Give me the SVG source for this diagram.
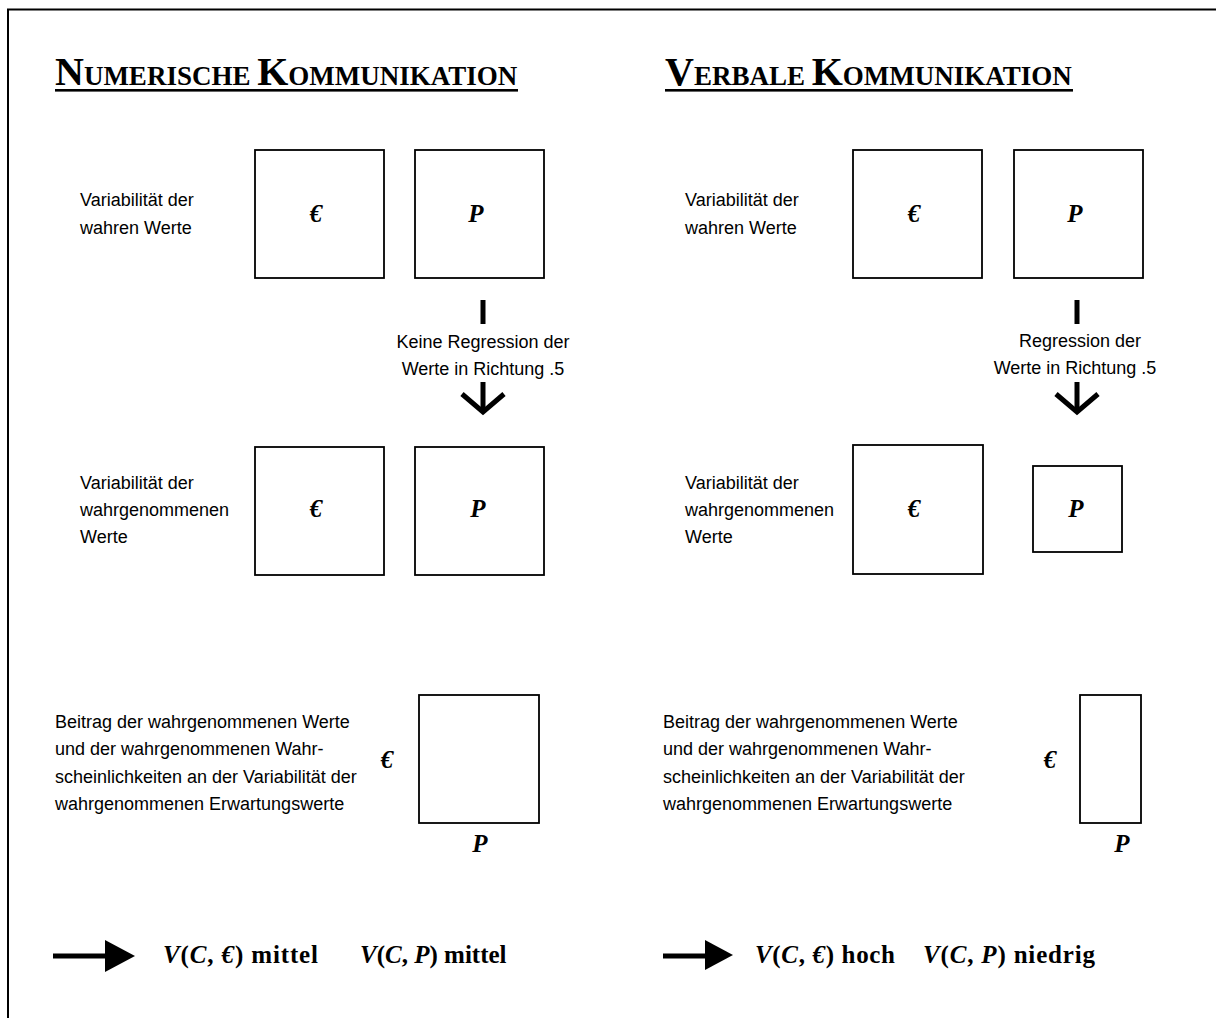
<svg xmlns="http://www.w3.org/2000/svg" width="1216" height="1018" viewBox="0 0 1216 1018">
<style>
.frame{fill:none;stroke:#000;stroke-width:2}
.box{fill:#fff;stroke:#000;stroke-width:1.8}
.lbl{font-family:"Liberation Sans",Arial,sans-serif;font-size:18px;fill:#000}
.sym{font-family:"Liberation Serif","Times New Roman",serif;font-size:25px;font-weight:bold;font-style:italic;fill:#000}
.title{font-family:"Liberation Serif","Times New Roman",serif;font-weight:bold;fill:#000}
.big{font-size:40px}
.sm{font-size:27px}
.res{font-family:"Liberation Serif","Times New Roman",serif;font-size:25px;font-weight:bold;fill:#000}
.it{font-style:italic}
.bar{fill:none;stroke:#000;stroke-width:5}
.shaft{fill:none;stroke:#000;stroke-width:5}
</style>
<rect class="frame" x="8" y="9.5" width="1230" height="1030"/>

<g id="title-left">
<text class="title" x="55" y="85"><tspan class="big">N</tspan><tspan class="sm">UMERISCHE </tspan><tspan class="big">K</tspan><tspan class="sm">OMMUNIKATION</tspan></text>
<rect x="55" y="89" width="463" height="2.6" fill="#000"/>
</g>
<g id="title-right">
<text class="title" x="665" y="85"><tspan class="big">V</tspan><tspan class="sm">ERBALE </tspan><tspan class="big">K</tspan><tspan class="sm">OMMUNIKATION</tspan></text>
<rect x="665" y="89" width="408" height="2.6" fill="#000"/>
</g>

<!-- Left column -->
<g id="label-l1"><text class="lbl" x="80" y="206">Variabilität der</text><text class="lbl" x="80" y="234">wahren Werte</text></g>
<g id="box-l1-e"><rect class="box" x="255" y="150" width="129" height="128"/><text class="sym" x="316" y="222" text-anchor="middle">€</text></g>
<g id="box-l1-p"><rect class="box" x="415" y="150" width="129" height="128"/><text class="sym" x="476" y="222" text-anchor="middle">P</text></g>

<g id="label-l2"><text class="lbl" x="80" y="489">Variabilität der</text><text class="lbl" x="80" y="516">wahrgenommenen</text><text class="lbl" x="80" y="543">Werte</text></g>
<g id="box-l2-e"><rect class="box" x="255" y="447" width="129" height="128"/><text class="sym" x="316" y="517" text-anchor="middle">€</text></g>
<g id="box-l2-p"><rect class="box" x="415" y="447" width="129" height="128"/><text class="sym" x="478" y="517" text-anchor="middle">P</text></g>

<g id="label-l3"><text class="lbl" x="55" y="728">Beitrag der wahrgenommenen Werte</text><text class="lbl" x="55" y="755">und der wahrgenommenen Wahr-</text><text class="lbl" x="55" y="783">scheinlichkeiten an der Variabilität der</text><text class="lbl" x="55" y="810">wahrgenommenen Erwartungswerte</text></g>
<g id="box-l3"><rect class="box" x="419" y="695" width="120" height="128"/><text class="sym" x="387" y="768" text-anchor="middle">€</text><text class="sym" x="480" y="852" text-anchor="middle">P</text></g>

<!-- Right column -->
<g id="label-r1"><text class="lbl" x="685" y="206">Variabilität der</text><text class="lbl" x="685" y="234">wahren Werte</text></g>
<g id="box-r1-e"><rect class="box" x="853" y="150" width="129" height="128"/><text class="sym" x="914" y="222" text-anchor="middle">€</text></g>
<g id="box-r1-p"><rect class="box" x="1014" y="150" width="129" height="128"/><text class="sym" x="1075" y="222" text-anchor="middle">P</text></g>

<g id="label-r2"><text class="lbl" x="685" y="489">Variabilität der</text><text class="lbl" x="685" y="516">wahrgenommenen</text><text class="lbl" x="685" y="543">Werte</text></g>
<g id="box-r2-e"><rect class="box" x="853" y="445" width="130" height="129"/><text class="sym" x="914" y="517" text-anchor="middle">€</text></g>
<g id="box-r2-p"><rect class="box" x="1033" y="466" width="89" height="86"/><text class="sym" x="1076" y="517" text-anchor="middle">P</text></g>

<g id="label-r3"><text class="lbl" x="663" y="728">Beitrag der wahrgenommenen Werte</text><text class="lbl" x="663" y="755">und der wahrgenommenen Wahr-</text><text class="lbl" x="663" y="783">scheinlichkeiten an der Variabilität der</text><text class="lbl" x="663" y="810">wahrgenommenen Erwartungswerte</text></g>
<g id="box-r3"><rect class="box" x="1080" y="695" width="61" height="128"/><text class="sym" x="1050" y="768" text-anchor="middle">€</text><text class="sym" x="1122" y="852" text-anchor="middle">P</text></g>

<!-- Connectors -->
<g id="connectors">
<line class="bar" x1="483" y1="300" x2="483" y2="324"/>
<text class="lbl" x="483" y="348" text-anchor="middle">Keine Regression der</text>
<text class="lbl" x="483" y="375" text-anchor="middle">Werte in Richtung .5</text>
<line class="bar" x1="483" y1="382" x2="483" y2="410"/>
<polyline class="bar" points="462,394 483,412 504,394" stroke-linejoin="miter"/>

<line class="bar" x1="1077" y1="300" x2="1077" y2="324"/>
<text class="lbl" x="1080" y="347" text-anchor="middle">Regression der</text>
<text class="lbl" x="1075" y="374" text-anchor="middle">Werte in Richtung .5</text>
<line class="bar" x1="1077" y1="382" x2="1077" y2="410"/>
<polyline class="bar" points="1056,394 1077,412 1098,394" stroke-linejoin="miter"/>

<line class="shaft" x1="53" y1="956" x2="107" y2="956"/>
<polygon points="105,940 135,956 105,972" fill="#000"/>
<line class="shaft" x1="663" y1="956" x2="707" y2="956"/>
<polygon points="705,940 733,955 705,970" fill="#000"/>
</g>

<g id="result-left">
<text class="res" x="163" y="963" textLength="155" lengthAdjust="spacing"><tspan class="it">V</tspan>(<tspan class="it">C</tspan>, <tspan class="it">€</tspan>) mittel</text>
<text class="res" x="360" y="963"><tspan class="it">V</tspan>(<tspan class="it">C</tspan>, <tspan class="it">P</tspan>) mittel</text>
</g>
<g id="result-right">
<text class="res" x="755" y="963" textLength="140" lengthAdjust="spacing"><tspan class="it">V</tspan>(<tspan class="it">C</tspan>, <tspan class="it">€</tspan>) hoch</text>
<text class="res" x="923" y="963" textLength="172" lengthAdjust="spacing"><tspan class="it">V</tspan>(<tspan class="it">C</tspan>, <tspan class="it">P</tspan>) niedrig</text>
</g>
</svg>
